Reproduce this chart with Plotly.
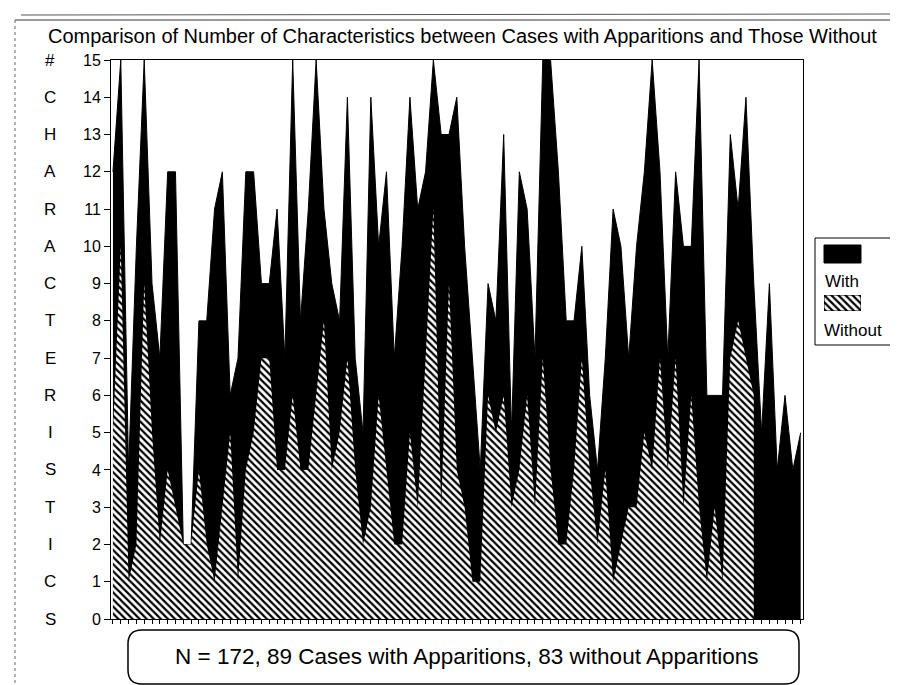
import plotly.graph_objects as go

# ---------------- data ----------------
with_vals = [12, 15, 4, 10, 15, 9, 7, 12, 12, 2,
             2, 8, 8, 11, 12, 6, 7, 12, 12, 9,
             9, 11, 7, 15, 8, 11, 15, 11, 9, 8,
             14, 7, 5, 14, 10, 12, 7, 10, 14, 11,
             12, 15, 13, 13, 14, 10, 7, 4, 9, 8,
             13, 5, 12, 11, 7, 15, 15, 12, 8, 8,
             10, 6, 4, 7, 11, 10, 7, 10, 12, 15,
             12, 7, 12, 10, 10, 15, 6, 6, 6, 13,
             11, 14, 9, 5, 9, 4, 6, 4, 5]
without_vals = [5, 10, 1, 2, 9, 5, 2, 4, 3, 2,
                2, 4, 2, 1, 3, 5, 1, 4, 5, 7,
                7, 4, 4, 6, 4, 4, 6, 8, 4, 5,
                7, 4, 2, 3, 6, 4, 2, 2, 5, 3,
                7, 11, 3, 9, 4, 3, 1, 1, 6, 5,
                6, 3, 4, 6, 3, 7, 4, 2, 2, 4,
                7, 4, 2, 4, 1, 2, 3, 3, 5, 4,
                7, 4, 7, 3, 6, 3, 1, 3, 1, 7,
                8, 7, 6]
with_cases = list(range(len(with_vals)))
without_cases = list(range(len(without_vals)))
y_ticks = list(range(0, 16))
y_title_letters = list("#CHARACTERISTICS")
title_text = "Comparison of Number of Characteristics between Cases with Apparitions and Those Without"
note_text = "N = 172, 89 Cases with Apparitions, 83 without Apparitions"
legend_names = ["With", "Without"]

# ---------------- geometry helpers (pixel -> paper) ----------------
W, H = 898, 685
FONT = "Liberation Sans, Arial, Helvetica, sans-serif"


def X(px):
    return px / W


def Y(py):
    return 1 - py / H


PLOT_L, PLOT_R, PLOT_T, PLOT_B = 103, 795, 52, 611

fig = go.Figure()

fig.add_trace(go.Scatter(
    x=with_cases, y=with_vals, mode="lines", name=legend_names[0],
    line=dict(color="black", width=1), fill="tozeroy", fillcolor="black",
    hoverinfo="x+y"))

fig.add_trace(go.Scatter(
    x=without_cases, y=without_vals, mode="lines", name=legend_names[1],
    line=dict(color="rgba(0,0,0,0)", width=0), fill="tozeroy", fillcolor="white",
    fillpattern=dict(shape="\\", fgcolor="black", bgcolor="white", size=5,
                     solidity=0.45, fillmode="replace"),
    hoverinfo="x+y"))

# legend hatched swatch drawn on a tiny hidden axis
fig.add_trace(go.Scatter(
    x=[0, 1, 1, 0, 0], y=[0, 0, 1, 1, 0], mode="lines", xaxis="x2", yaxis="y2",
    line=dict(color="black", width=1), fill="toself", fillcolor="white",
    fillpattern=dict(shape="\\", fgcolor="black", bgcolor="white", size=5,
                     solidity=0.45, fillmode="replace"),
    hoverinfo="skip", showlegend=False))

fig.update_layout(
    width=W, height=H,
    margin=dict(l=0, r=0, t=0, b=0),
    paper_bgcolor="white", plot_bgcolor="white",
    showlegend=False,
    font=dict(family=FONT, color="black"),
    xaxis=dict(domain=[X(PLOT_L), X(PLOT_R)], range=[-0.25, 88.3],
               tickmode="array", tickvals=with_cases, showticklabels=False,
               ticks="outside", ticklen=4, tickwidth=1, tickcolor="black",
               showline=True, linecolor="black", linewidth=1, mirror=True,
               showgrid=False, zeroline=False, automargin=False),
    yaxis=dict(domain=[Y(PLOT_B), Y(PLOT_T)], range=[0, 15],
               tickmode="array", tickvals=y_ticks, ticktext=[str(v) for v in y_ticks],
               ticks="outside", ticklen=6, tickwidth=1, tickcolor="black",
               tickfont=dict(size=16, family=FONT, color="black"),
               showline=True, linecolor="black", linewidth=1, mirror=True,
               showgrid=False, zeroline=False, automargin=False),
    xaxis2=dict(domain=[X(816), X(853)], range=[0, 1], visible=False, anchor="y2",
                fixedrange=True),
    yaxis2=dict(domain=[Y(303), Y(287)], range=[0, 1], visible=False, anchor="x2",
                fixedrange=True),
)

annotations = []
# title
annotations.append(dict(text=title_text, x=X(454), y=Y(28), xref="paper", yref="paper",
                        showarrow=False, xanchor="center", yanchor="middle",
                        font=dict(size=20, family=FONT)))
# vertical y title letters aligned with ticks
for val, ch in zip(reversed(y_ticks), y_title_letters):
    annotations.append(dict(text=ch, x=X(42), y=val, xref="paper", yref="y",
                            showarrow=False, xanchor="center", yanchor="middle",
                            font=dict(size=17, family=FONT)))
# legend texts
annotations.append(dict(text=legend_names[0], x=X(815), y=Y(273), xref="paper", yref="paper",
                        showarrow=False, xanchor="left", yanchor="middle",
                        font=dict(size=17, family=FONT)))
annotations.append(dict(text=legend_names[1], x=X(814), y=Y(322), xref="paper", yref="paper",
                        showarrow=False, xanchor="left", yanchor="middle",
                        font=dict(size=17, family=FONT)))
# bottom note
annotations.append(dict(text=note_text, x=X(458), y=Y(648), xref="paper", yref="paper",
                        showarrow=False, xanchor="center", yanchor="middle",
                        font=dict(size=22.5, family=FONT)))
fig.update_layout(annotations=annotations)


def P(px, py):
    return f"{X(px):.5f},{Y(py):.5f}"


def rounded_rect(x0, y0, x1, y1, r):
    return (f"M {P(x0 + r, y0)} L {P(x1 - r, y0)} Q {P(x1, y0)} {P(x1, y0 + r)} "
            f"L {P(x1, y1 - r)} Q {P(x1, y1)} {P(x1 - r, y1)} "
            f"L {P(x0 + r, y1)} Q {P(x0, y1)} {P(x0, y1 - r)} "
            f"L {P(x0, y0 + r)} Q {P(x0, y0)} {P(x0 + r, y0)} Z")


shapes = []
# bottom rounded box
shapes.append(dict(type="path", xref="paper", yref="paper",
                   path=rounded_rect(120, 622, 791, 676, 14),
                   line=dict(color="black", width=1.5), fillcolor="rgba(0,0,0,0)"))
# legend box
shapes.append(dict(type="rect", xref="paper", yref="paper",
                   x0=X(807), x1=X(892), y0=Y(337), y1=Y(230),
                   line=dict(color="black", width=1), fillcolor="white", layer="below"))
# black legend swatch
shapes.append(dict(type="rect", xref="paper", yref="paper",
                   x0=X(816), x1=X(853), y0=Y(255), y1=Y(237),
                   line=dict(color="black", width=1), fillcolor="black"))
# outer page frame lines (scan border)
shapes.append(dict(type="line", xref="paper", yref="paper",
                   x0=X(13), x1=X(898), y0=Y(7), y1=Y(6),
                   line=dict(color="#555", width=1)))
shapes.append(dict(type="line", xref="paper", yref="paper",
                   x0=X(7), x1=X(893), y0=Y(12), y1=Y(12),
                   line=dict(color="#333", width=1)))
shapes.append(dict(type="line", xref="paper", yref="paper",
                   x0=X(7), x1=X(7), y0=Y(12), y1=Y(685),
                   line=dict(color="#666", width=1, dash="dot")))
shapes.append(dict(type="line", xref="paper", yref="paper",
                   x0=X(893), x1=X(893), y0=Y(8), y1=Y(685),
                   line=dict(color="#444", width=1)))
fig.update_layout(shapes=shapes)

fig.write_html("out.html")
